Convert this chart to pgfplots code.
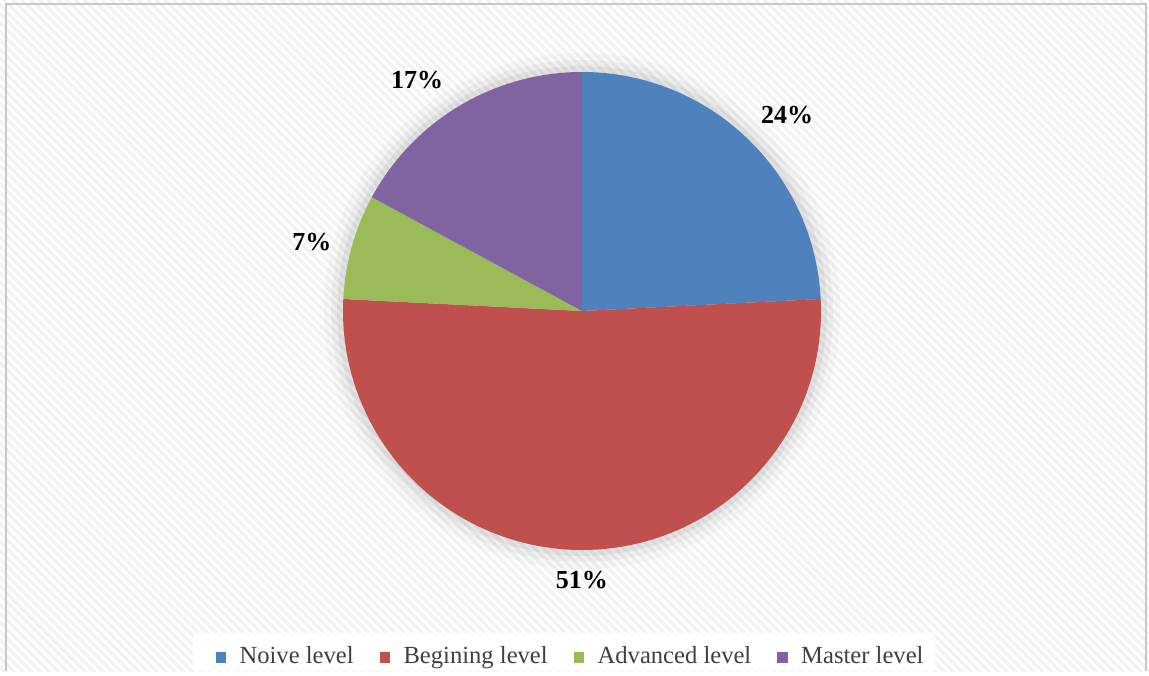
\documentclass[border=0pt]{standalone}
\usepackage{pgfplots}
\pgfplotsset{compat=1.18}
\usepackage{pgfplotstable}
\usetikzlibrary{patterns.meta}
\usepackage{fontspec}
\setmainfont{Liberation Serif}
\definecolor{cblue}{HTML}{4F81BD}
\definecolor{cred}{HTML}{C0504D}
\definecolor{cgreen}{HTML}{9BBB59}
\definecolor{cpurple}{HTML}{8064A2}

\pgfplotstableread{
value col
24.2 cblue
51.6 cred
7.1 cgreen
17.1 cpurple
}\piedata

\begin{document}
\begin{tikzpicture}
\begin{axis}[
  x=2.39cm, y=2.39cm,
  xmin=-2.4351, xmax=2.3724, ymin=-1.5063, ymax=1.3013,
  hide axis, clip=false,
  legend columns=4,
  legend style={at={(axis description cs:0.4988,0.020)}, anchor=center,
    draw=none, fill=none, font=\fontsize{7.0}{8}\selectfont, text=black!75,
    /tikz/every even column/.style={column sep=5.4pt},
    inner sep=0pt},
  legend image code/.code={\fill[#1, draw=none] (0pt,-1.45pt) rectangle (2.9pt,1.45pt); \path (4.6pt,0pt);},
]
% background
\fill[white] (rel axis cs:0,0) rectangle (rel axis cs:1,1);
\fill[pattern={Lines[angle=-45,distance=1.8pt,line width=0.9pt]}, pattern color=black!5]
  (rel axis cs:0,0) rectangle (rel axis cs:1,1);
\draw[black!22, line width=0.5pt] (axis cs:-2.410,-1.5063) -- (axis cs:-2.410,1.2845) -- (axis cs:2.360,1.2845) -- (axis cs:2.360,-1.5063);
% legend background
\fill[white] (axis cs:-1.628,-1.347) rectangle (axis cs:1.477,-1.5063);
% soft glow
\fill[black, opacity=0.025] (axis cs:0,0) circle[radius=1.08*2.39cm];
\fill[black, opacity=0.035] (axis cs:0,0) circle[radius=1.05*2.39cm];
\fill[black, opacity=0.05] (axis cs:0,0) circle[radius=1.025*2.39cm];
% slices
\xdef\startang{90}
\pgfplotsinvokeforeach{0,...,3}{
  \pgfplotstablegetelem{#1}{value}\of\piedata
  \let\val\pgfplotsretval
  \pgfplotstablegetelem{#1}{col}\of\piedata
  \let\col\pgfplotsretval
  \pgfmathsetmacro\endang{\startang-3.6*\val}
  \edef\temp{\noexpand\fill[\col] (axis cs:0,0) -- (axis cs:{cos(\startang)},{sin(\startang)}) arc[start angle=\startang, end angle=\endang, radius=2.39cm] -- cycle;}
  \temp
  \xdef\startang{\endang}
}
% labels
\node[font=\bfseries\fontsize{7.4}{8}\selectfont] at (axis cs:0.858,0.820) {24\%};
\node[font=\bfseries\fontsize{7.4}{8}\selectfont] at (axis cs:0,-1.125) {51\%};
\node[font=\bfseries\fontsize{7.4}{8}\selectfont] at (axis cs:-1.13,0.289) {7\%};
\node[font=\bfseries\fontsize{7.4}{8}\selectfont] at (axis cs:-0.69,0.966) {17\%};
\addlegendimage{fill=cblue}
\addlegendentry{Noive level}
\addlegendimage{fill=cred}
\addlegendentry{Begining level}
\addlegendimage{fill=cgreen}
\addlegendentry{Advanced level}
\addlegendimage{fill=cpurple}
\addlegendentry{Master level}
\end{axis}
\end{tikzpicture}
\end{document}
